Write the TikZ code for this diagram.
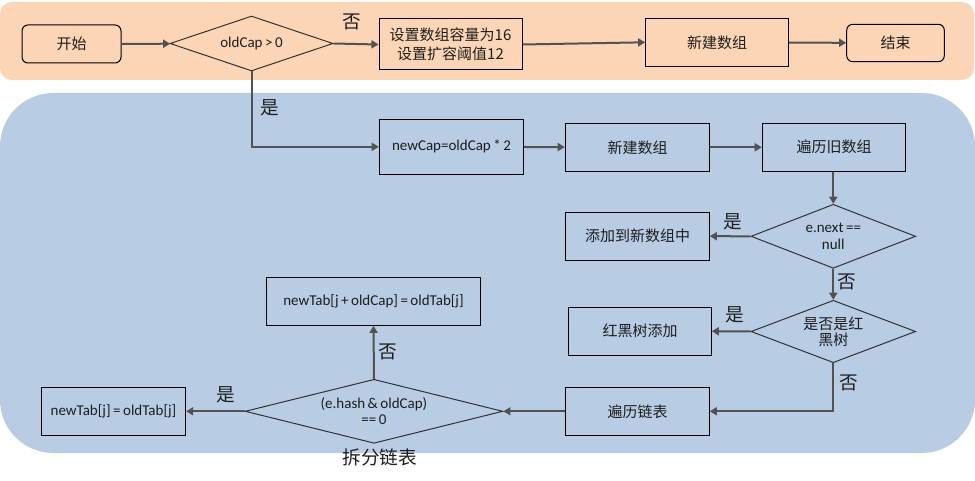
\documentclass[tikz,border=0pt]{standalone}
\usepackage{fontspec}
\setmainfont{Carlito}
\newfontfamily\cjk{Noto Sans CJK SC}
\usetikzlibrary{shapes.geometric,arrows.meta}
\definecolor{peach}{RGB}{251,213,181}
\definecolor{bluebg}{RGB}{184,204,228}
\definecolor{arrowgray}{RGB}{82,82,82}
\definecolor{txt}{RGB}{30,30,30}
\definecolor{dgray}{RGB}{50,50,50}
\begin{document}
\begin{tikzpicture}[x=0.75pt,y=-0.75pt,
  every node/.style={text=txt},
  box/.style={draw=black, line width=0.75pt, inner sep=0pt, align=center,
    font=\fontsize{11.25}{13.5}\selectfont},
  rbox/.style={box, rounded corners=4.5pt},
  dia/.style={draw=dgray, line width=0.75pt, shape=diamond, inner sep=0pt,
    align=center, font=\fontsize{11.25}{12.2}\selectfont},
  conn/.style={draw=arrowgray, line width=1.5pt, -{Triangle[length=5.3pt,width=6pt]}},
  lbl/.style={font=\cjk\fontsize{14}{16}\selectfont, inner sep=0pt}
]
\useasboundingbox (0,0) rectangle (975,481);
% backgrounds
\fill[peach, rounded corners=9pt] (0,2) rectangle (974,80);
\fill[bluebg, rounded corners=40pt] (0,93) rectangle (975,453);

% top row
\node[rbox, minimum width={99*0.75pt}, minimum height={38*0.75pt}] (start) at (71.5,44) {\cjk 开始};
\node[dia, aspect=3, minimum width={163*0.75pt}, minimum height={55*0.75pt}] (d1) at (251.5,43.5) {oldCap\,>\,0};
\node[box, minimum width={143*0.75pt}, minimum height={51*0.75pt}, font=\cjk\fontsize{11.25}{14}\selectfont] (set16) at (450.5,44.5) {设置数组容量为16\\设置扩容阈值12};
\node[box, minimum width={142.6*0.75pt}, minimum height={48*0.75pt}] (newarr1) at (717,42.3) {\cjk 新建数组};
\node[rbox, minimum width={97.6*0.75pt}, minimum height={37.4*0.75pt}] (end) at (895.5,43) {\cjk 结束};

% second row
\node[box, minimum width={144.4*0.75pt}, minimum height={55*0.75pt}] (newcap) at (451.5,146.8) {newCap=oldCap\,*\,2};
\node[box, minimum width={144.4*0.75pt}, minimum height={48*0.75pt}] (newarr2) at (637.5,147.3) {\cjk 新建数组};
\node[box, minimum width={143.4*0.75pt}, minimum height={48*0.75pt}] (trav) at (834,147.3) {\cjk 遍历旧数组};

% right column
\node[dia, aspect=2.57, minimum width={164.7*0.75pt}, minimum height={64*0.75pt}] (d2) at (833.3,236.3) {e.next\,==\\null};
\node[box, minimum width={143.6*0.75pt}, minimum height={47.7*0.75pt}] (addnew) at (637.5,236.2) {\cjk 添加到新数组中};
\node[dia, aspect=2.57, minimum width={164.7*0.75pt}, minimum height={62.4*0.75pt}, font=\cjk\fontsize{11.25}{12.2}\selectfont] (d3) at (833.3,331.5) {是否是红\\黑树};
\node[box, minimum width={142.6*0.75pt}, minimum height={47.7*0.75pt}] (rbadd) at (640,331.2) {\cjk 红黑树添加};
\node[box, minimum width={143.6*0.75pt}, minimum height={48*0.75pt}] (travlist) at (637.5,411.3) {\cjk 遍历链表};

% bottom left
\node[dia, aspect=4, minimum width={257.8*0.75pt}, minimum height={64*0.75pt}] (d4) at (374,411.3) {(e.hash\,\&\,oldCap)\\==\,0};
\node[box, minimum width={214.5*0.75pt}, minimum height={48*0.75pt}] (hi) at (373.5,301.3) {newTab[j\,+\,oldCap]\,=\,oldTab[j]};
\node[box, minimum width={144.3*0.75pt}, minimum height={48*0.75pt}] (lo) at (113.5,411.3) {newTab[j]\,=\,oldTab[j]};

% connectors
\draw[conn] (start) -- (d1);
\draw[conn] (d1.east) -- (set16.west);
\draw[conn] (set16.east) -- (newarr1.west);
\draw[conn] (newarr1) -- (end);
\draw[conn] (d1.south) |- (newcap.west);
\draw[conn] (newcap) -- (newarr2);
\draw[conn] (newarr2) -- (trav);
\draw[conn] (trav.south -| d2.north) -- (d2.north);
\draw[conn] (d2.west) -- (addnew.east);
\draw[conn] (d2.south) -- (d3.north);
\draw[conn] (d3.west) -- (rbadd.east);
\draw[conn] (d3.south) |- (travlist.east);
\draw[conn] (travlist.west) -- (d4.east);
\draw[conn] (d4.north) -- (hi.south);
\draw[conn] (d4.west) -- (lo.east);

% labels
\node[lbl] (l1) at (352,22) {否};
\node[lbl] (l2) at (270,108) {是};
\node[lbl] (l3) at (733,221.7) {是};
\node[lbl] (l4) at (846.7,281.7) {否};
\node[lbl] (l5) at (735,315) {是};
\node[lbl] (l6) at (849,382.7) {否};
\node[lbl] (l7) at (387.4,351.7) {否};
\node[lbl] (l8) at (225.5,395) {是};
\node[lbl] (l9) at (379.8,457.3) {拆分链表};
\end{tikzpicture}
\end{document}
